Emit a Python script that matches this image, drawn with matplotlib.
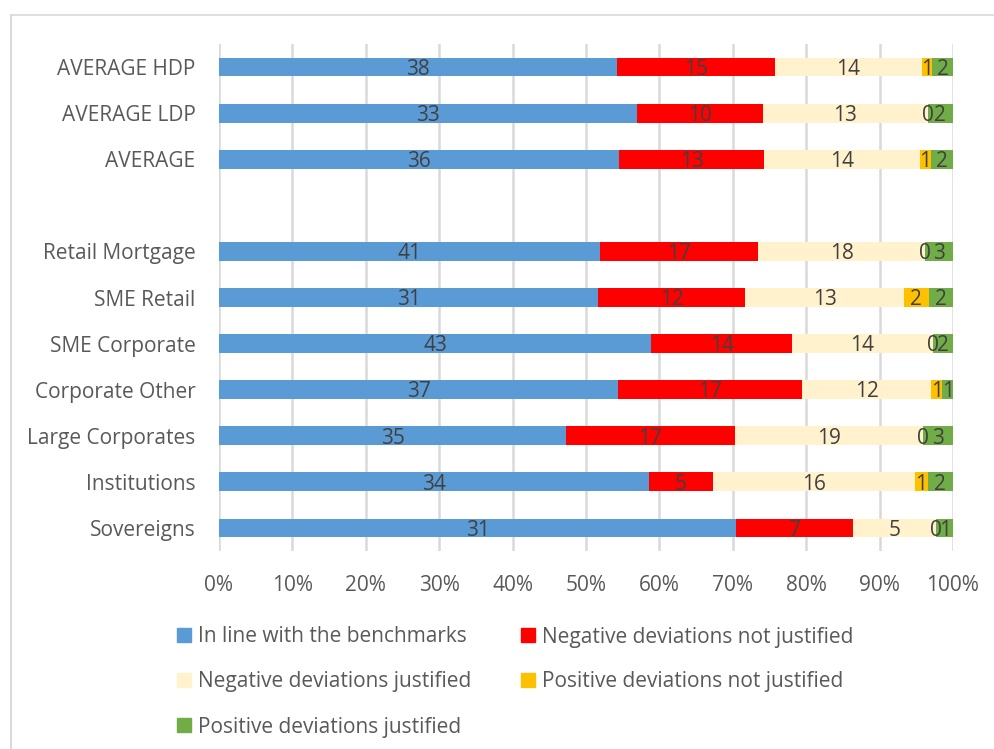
import matplotlib
matplotlib.use("Agg")
import matplotlib.pyplot as plt
from matplotlib.patches import Rectangle
from matplotlib.lines import Line2D
import numpy as np

plt.rcParams['font.family'] = ['Open Sans', 'DejaVu Sans']

categories = ["AVERAGE HDP", "AVERAGE LDP", "AVERAGE", "",
              "Retail Mortgage", "SME Retail", "SME Corporate", "Corporate Other",
              "Large Corporates", "Institutions", "Sovereigns"]
in_line = [38, 33, 36, None, 41, 31, 43, 37, 35, 34, 31]
neg_not_just = [15, 10, 13, None, 17, 12, 14, 17, 17, 5, 7]
neg_just = [14, 13, 14, None, 18, 13, 14, 12, 19, 16, 5]
pos_not_just = [1, 0, 1, None, 0, 2, 0, 1, 0, 1, 0]
pos_just = [2, 2, 2, None, 3, 2, 2, 1, 3, 2, 1]

series_names = ["In line with the benchmarks", "Negative deviations not justified",
                "Negative deviations justified", "Positive deviations not justified",
                "Positive deviations justified"]
colors = ["#5B9BD5", "#FF0000", "#FFF2CC", "#FFC000", "#70AD47"]
xticklabels = ["0%", "10%", "20%", "30%", "40%", "50%", "60%", "70%", "80%", "90%", "100%"]

W, H = 995, 749
fig = plt.figure(figsize=(W / 100, H / 100), dpi=100)
ax = fig.add_axes([219 / W, 1 - 551 / H, (953 - 219) / W, (551 - 44) / H])

series = [in_line, neg_not_just, neg_just, pos_not_just, pos_just]
n = len(categories)
y = np.arange(n)
label_color = "#404040"
fs = 15

for i in range(n):
    if series[0][i] is None:
        continue
    vals = [s[i] for s in series]
    total = sum(vals)
    left = 0.0
    for k, v in enumerate(vals):
        w = v / total
        ax.barh(y[i], w, left=left, height=0.41, color=colors[k], zorder=2)
        ax.text(left + w / 2, y[i] + 0.05, str(v), ha="center", va="center",
                fontsize=fs, color=label_color, zorder=3)
        left += w

ax.set_xlim(0, 1)
ax.set_ylim(n - 0.5, -0.5)
ax.set_xticks(np.linspace(0, 1, 11))
ax.set_xticklabels(xticklabels, fontsize=fs, color="#595959")
ax.set_yticks(y)
ax.set_yticklabels(categories, fontsize=fs, color="#595959")
ax.tick_params(axis="both", length=0)
ax.tick_params(axis="x", pad=17)
ax.tick_params(axis="y", pad=17)
ax.grid(axis="x", color="#D9D9D9", linewidth=1.8, zorder=0)
for sp in ax.spines.values():
    sp.set_visible(False)

# outer frame (top and left edges visible)
fig.add_artist(Line2D([11 / W, 1.0], [1 - 15 / H, 1 - 15 / H], color="#D9D9D9", lw=1.2,
                      transform=fig.transFigure))
fig.add_artist(Line2D([11 / W, 11 / W], [0, 1 - 15 / H], color="#D9D9D9", lw=1.5,
                      transform=fig.transFigure))

# legend
leg_items = [(177, 635, 0), (521, 635, 1), (177, 680, 2), (521, 680, 3), (177, 725, 4)]
for x0, yc, k in leg_items:
    fig.add_artist(Rectangle((x0 / W, 1 - (yc + 7) / H), 14 / W, 14 / H,
                             color=colors[k], transform=fig.transFigure))
    fig.text((x0 + 21) / W, 1 - (yc + 2) / H, series_names[k], ha="left", va="center",
             fontsize=fs, color="#595959")

fig.savefig("out.png", dpi=100)
